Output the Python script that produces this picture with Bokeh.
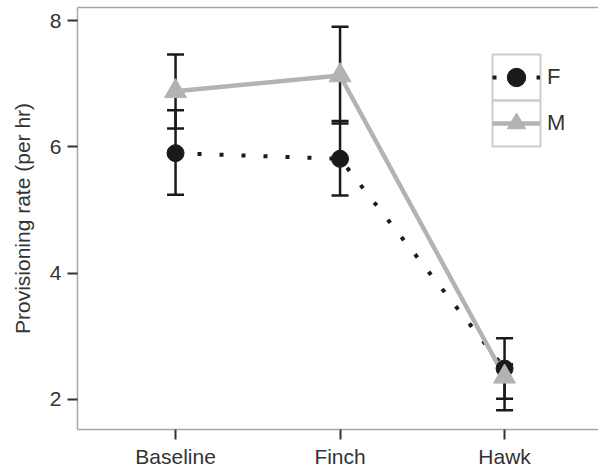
from bokeh.plotting import figure
from bokeh.models import (ColumnDataSource, Range1d, FixedTicker, LinearAxis, Whisker,
                          TeeHead, Legend, LegendItem, BoxAnnotation)
from bokeh.embed import file_html
from bokeh.resources import INLINE

# ---- data ----
conditions = ["Baseline", "Finch", "Hawk"]
f_mean = [5.90, 5.81, 2.49]
f_lower = [5.24, 5.23, 2.01]
f_upper = [6.58, 6.41, 2.97]
m_mean = [6.88, 7.13, 2.36]
m_lower = [6.29, 6.37, 1.83]
m_upper = [7.46, 7.90, 2.56]
y_ticks = [2, 4, 6, 8]

x_pos = [i + 1 for i in range(len(conditions))]

FONT = "Liberation Sans"
FRAME = "#a6a6a6"
DARK = "#1a1a1a"
GREY = "#b3b3b3"
TXT = "#333333"

p = figure(frame_width=521, frame_height=422, output_backend="svg", toolbar_location=None,
           x_range=Range1d(0.404, 3.571), y_range=Range1d(1.525, 8.206),
           min_border_left=77, min_border_right=0, min_border_top=7, min_border_bottom=42)
p.outline_line_color = None
p.xgrid.visible = False
p.ygrid.visible = False
p.background_fill_color = "white"
p.border_fill_color = "white"

src_f = ColumnDataSource(dict(x=x_pos, y=f_mean, lower=f_lower, upper=f_upper))
src_m = ColumnDataSource(dict(x=x_pos, y=m_mean, lower=m_lower, upper=m_upper))

# error bars (under the markers)
for src in (src_f, src_m):
    w = Whisker(base="x", lower="lower", upper="upper", source=src,
                line_color=DARK, line_width=2.5,
                upper_head=TeeHead(size=17, line_color=DARK, line_width=2.5),
                lower_head=TeeHead(size=17, line_color=DARK, line_width=2.5),
                level="underlay")
    p.add_layout(w)

f_line = p.line("x", "y", source=src_f, line_color=DARK, line_width=4,
                line_dash="4 18", line_cap="butt")
m_line = p.line("x", "y", source=src_m, line_color=GREY, line_width=4.5)
f_pts = p.scatter("x", "y", source=src_f, marker="circle", size=17,
                  fill_color=DARK, line_color=DARK)
m_pts = p.scatter("x", "y", source=src_m, marker="triangle", size=22,
                  fill_color=GREY, line_color=GREY)

# axes
for ax in (p.xaxis[0], p.yaxis[0]):
    ax.axis_line_color = FRAME
    ax.axis_line_width = 1.5
    ax.major_tick_line_color = TXT
    ax.major_tick_line_width = 2
    ax.major_tick_in = 0
    ax.major_tick_out = 10
    ax.minor_tick_line_color = None
    ax.major_label_text_font = FONT
    ax.major_label_text_font_size = "21px"
    ax.major_label_text_color = TXT

p.xaxis.ticker = FixedTicker(ticks=x_pos)
p.xaxis.major_label_overrides = {x: c for x, c in zip(x_pos, conditions)}
p.xaxis.major_label_standoff = 5
p.yaxis.ticker = FixedTicker(ticks=y_ticks)
p.yaxis.major_label_standoff = 6
p.yaxis.axis_label = "Provisioning rate (per hr)"
p.yaxis.axis_label_text_font = FONT
p.yaxis.axis_label_text_font_size = "21px"
p.yaxis.axis_label_text_font_style = "normal"
p.yaxis.axis_label_text_color = TXT
p.yaxis.axis_label_standoff = 13

top = LinearAxis(ticker=FixedTicker(ticks=[]), axis_line_color=FRAME, axis_line_width=1.5,
                 major_tick_line_color=None, minor_tick_line_color=None,
                 major_label_text_font_size="0px", major_label_standoff=0,
                 major_tick_out=0, major_tick_in=0)
p.add_layout(top, "above")

# legend
legend = Legend(items=[LegendItem(label="F", renderers=[f_line, f_pts]),
                       LegendItem(label="M", renderers=[m_line, m_pts])],
                location=(415, 283), padding=0, margin=0, spacing=0,
                glyph_width=48, glyph_height=46, label_standoff=7,
                label_text_font=FONT, label_text_font_size="22px", label_text_color=TXT,
                border_line_color=None, background_fill_alpha=0)
p.add_layout(legend)
for b, t in ((329, 375), (283, 329)):
    p.add_layout(BoxAnnotation(left=415, right=463, bottom=b, top=t,
                               left_units="screen", right_units="screen",
                               bottom_units="screen", top_units="screen",
                               fill_alpha=0, line_color="#cccccc", line_width=2,
                               line_alpha=1))

open("out.html", "w").write(file_html(p, INLINE))
